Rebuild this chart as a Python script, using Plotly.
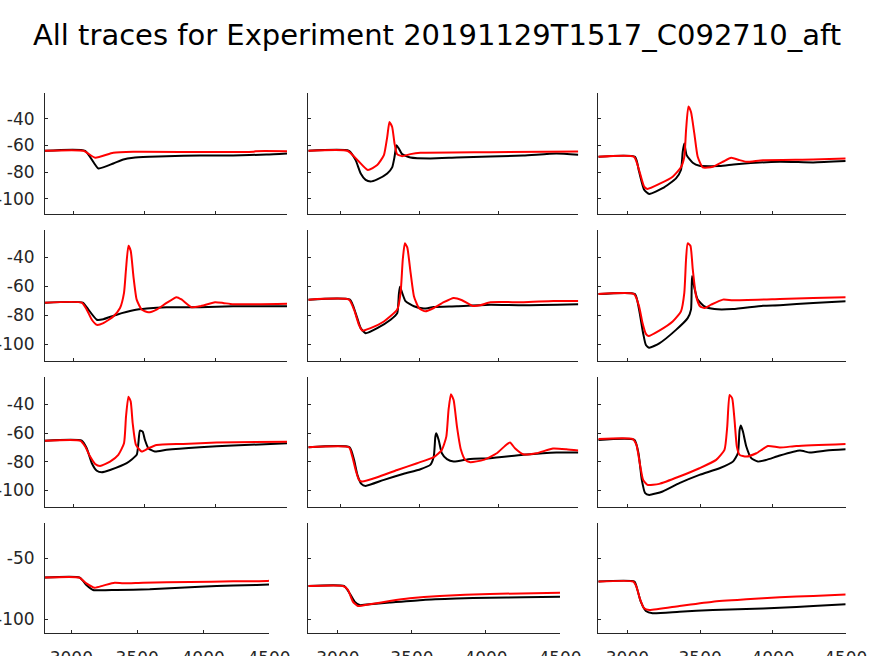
import plotly.graph_objects as go

TITLE = "All traces for Experiment 20191129T1517_C092710_aft"

X_TICKS = [3000, 3500, 4000, 4500]
X_TICKTEXT = ["3000", "3500", "4000", "4500"]
Y_TICKS_TOP = [-100, -80, -60, -40]
Y_TICKTEXT_TOP = ["-100", "-80", "-60", "-40"]
Y_TICKS_BOTTOM = [-100, -50]
Y_TICKTEXT_BOTTOM = ["-100", "-50"]

# ---- row 1 ----
T11_BLK = [2800, 3082, 3175, 3280, 3350, 3420, 3537, 3654, 3888, 4121, 4355, 4500]
V11_BLK = [-64, -64, -77.2, -73.5, -70.5, -69.2, -68.5, -68, -67.5, -67.5, -66.8, -66]
T11_RED = [2800, 3070, 3152, 3280, 3420, 4262, 4280, 4500]
V11_RED = [-64, -64, -69.2, -65.5, -64.8, -64.8, -64.3, -64.3]

T12_BLK = [2800, 3056, 3098, 3130, 3161, 3192, 3234, 3297, 3328, 3343, 3355, 3370, 3391, 3443, 3568, 3735, 4153, 4362, 4500]
V12_BLK = [-64, -64, -71, -81, -85.8, -87, -85.4, -81, -76.4, -68.5, -59.8, -62.3, -66.5, -69, -69.7, -69, -67.5, -66, -67]
T12_RED = [2800, 3046, 3110, 3175, 3234, 3276, 3297, 3311, 3328, 3343, 3359, 3391, 3443, 3506, 3944, 4500]
V12_RED = [-64, -64, -71, -78.4, -74.7, -67.3, -53.6, -42.5, -46.2, -58.6, -66.5, -68, -66.5, -65.5, -65, -64.5]

T13_BLK = [2800, 3052, 3080, 3115, 3150, 3242, 3334, 3368, 3380, 3391, 3407, 3449, 3495, 3633, 3748, 4047, 4277, 4500]
V13_BLK = [-68.5, -68.5, -79.5, -93.1, -96.3, -92, -84.6, -78.4, -64.8, -58.6, -67.3, -73, -75.2, -75.4, -74, -72.2, -72.7, -71.7]
T13_RED = [2800, 3046, 3080, 3115, 3138, 3219, 3311, 3368, 3391, 3403, 3419, 3437, 3460, 3483, 3518, 3587, 3656, 3713, 3771, 3817, 3932, 4277, 4500]
V13_RED = [-68.5, -68.5, -78.4, -90.8, -92.5, -88.8, -83.4, -76.4, -68.5, -48.7, -30.8, -35, -51.2, -68.5, -76.4, -75.9, -72.2, -69.2, -71, -72.2, -71, -70.5, -69.7]

# ---- row 2 ----
T21_BLK = [2800, 3065, 3105, 3164, 3210, 3304, 3421, 3514, 3654, 3888, 4121, 4500]
V21_BLK = [-71.2, -71.2, -76, -83, -82.6, -79.5, -76.5, -75.3, -74.4, -74.4, -73.7, -73.7]
T21_RED = [2800, 3058, 3093, 3129, 3164, 3210, 3280, 3327, 3355, 3369, 3386, 3402, 3421, 3444, 3479, 3526, 3584, 3654, 3724, 3759, 3830, 3888, 3994, 4051, 4121, 4500]
V21_RED = [-71.2, -71.2, -76, -83, -86.5, -85.3, -80.7, -74.9, -64.4, -48.1, -31.9, -35.3, -52.8, -69.1, -76, -77.9, -76, -71.4, -67.4, -69, -74.4, -73.7, -70.9, -71.4, -72.3, -71.9]

T22_BLK = [2800, 3062, 3098, 3130, 3161, 3234, 3318, 3360, 3370, 3377, 3391, 3412, 3465, 3527, 3590, 3736, 3946, 4155, 4500]
V22_BLK = [-69.1, -69.1, -78.4, -88.8, -92.3, -88.8, -83, -78.4, -65.6, -60.2, -64.4, -70.2, -73.7, -75.3, -74.2, -73.7, -72.6, -73, -72.3]
T22_RED = [2800, 3056, 3088, 3119, 3140, 3192, 3276, 3360, 3381, 3395, 3408, 3423, 3444, 3465, 3496, 3538, 3590, 3653, 3715, 3768, 3831, 3883, 3946, 4155, 4343, 4500]
V22_RED = [-69.1, -69.1, -76, -86.5, -90.5, -88.8, -84.2, -76, -64.4, -41.2, -30.2, -33, -50.5, -66.7, -74.9, -77.2, -74.9, -70.9, -67.9, -69.5, -73.3, -73, -70.9, -70.9, -70, -70]

T23_BLK = [2800, 3052, 3080, 3108, 3127, 3150, 3219, 3334, 3414, 3437, 3444, 3460, 3483, 3529, 3598, 3725, 3932, 4047, 4277, 4500]
V23_BLK = [-65.3, -65.3, -76, -92.3, -100.5, -102.3, -99.3, -90, -81.9, -76, -52.8, -60.9, -69.1, -73.7, -75.6, -75.6, -73.3, -73, -71.4, -70.2]
T23_RED = [2800, 3046, 3080, 3104, 3127, 3145, 3219, 3311, 3368, 3391, 3403, 3414, 3433, 3449, 3472, 3499, 3529, 3575, 3656, 3725, 4047, 4277, 4500]
V23_RED = [-65.3, -65.3, -73.7, -85.3, -92.8, -94.2, -90.5, -84.2, -77.2, -64.4, -41.2, -30.2, -31.9, -48.1, -66.7, -73.7, -74.9, -72.6, -69.1, -69.5, -68.6, -67.9, -67.4]

# ---- row 3 ----
T31_BLK = [2800, 3058, 3093, 3129, 3164, 3199, 3257, 3374, 3444, 3456, 3467, 3486, 3502, 3526, 3572, 3654, 3888, 4121, 4500]
V31_BLK = [-65.3, -65.3, -70.6, -81, -86.3, -87.3, -85.7, -81, -75.2, -67.1, -58.3, -59, -64.8, -70.6, -72.9, -71.7, -69.9, -68.7, -67.1]
T31_RED = [2800, 3047, 3082, 3117, 3152, 3187, 3257, 3315, 3355, 3369, 3386, 3402, 3416, 3439, 3479, 3526, 3584, 3771, 4005, 4500]
V31_RED = [-65.3, -65.3, -69.4, -76.4, -81.5, -82.9, -79.9, -75.2, -67.1, -48.6, -34.7, -38.1, -53.2, -68.3, -72.9, -70.6, -68.3, -67.6, -66.6, -66]

T32_BLK = [2800, 3060, 3088, 3109, 3134, 3161, 3276, 3401, 3506, 3568, 3590, 3600, 3606, 3621, 3641, 3673, 3715, 3820, 3945, 4153, 4362, 4500]
V32_BLK = [-69.9, -69.9, -78.7, -89.1, -95.4, -96.8, -92.6, -88.4, -85.2, -82.2, -76.4, -62.5, -60.2, -64.8, -74.1, -78.2, -79.9, -78, -77.5, -75.2, -73.6, -73.6]
T32_RED = [2800, 3056, 3077, 3098, 3119, 3140, 3234, 3360, 3485, 3590, 3641, 3669, 3683, 3698, 3715, 3736, 3761, 3788, 3820, 3903, 3987, 4038, 4070, 4101, 4153, 4237, 4341, 4425, 4500]
V32_RED = [-69.9, -69.9, -76.4, -85.7, -92.6, -93.8, -90.8, -85.7, -81, -76.8, -71.7, -62.5, -43.9, -33, -37, -55.5, -71.7, -78.7, -80.3, -78.7, -74.1, -69, -66.6, -70.6, -74.8, -74.1, -70.8, -71.3, -72.2]

T33_BLK = [2800, 3048, 3076, 3099, 3122, 3150, 3242, 3357, 3495, 3633, 3725, 3759, 3771, 3780, 3794, 3817, 3851, 3897, 3955, 4047, 4185, 4254, 4369, 4500]
V33_BLK = [-64.8, -64.8, -74.1, -92.6, -101.9, -103.1, -100.7, -94.9, -89.1, -84.5, -79.9, -74.1, -57.8, -54.8, -59, -69.4, -77.5, -79.9, -78.7, -75.7, -72.2, -73.6, -72.2, -71.3]
T33_RED = [2800, 3035, 3062, 3085, 3108, 3138, 3219, 3357, 3495, 3610, 3667, 3686, 3702, 3720, 3736, 3752, 3771, 3817, 3886, 3966, 4047, 4162, 4500]
V33_RED = [-64.1, -64.1, -68.3, -81, -92.6, -96.1, -95.4, -90.3, -84.5, -78.7, -71.7, -55.5, -33.5, -35.8, -50.9, -69.4, -75.2, -76.4, -74.1, -69, -70.1, -69, -67.6]

# ---- row 4 ----
T41_BLK = [2800, 3064, 3114, 3165, 3342, 3595, 3824, 3976, 4229, 4407, 4500]
V41_BLK = [-65.9, -65.9, -72, -76.1, -76.1, -75.5, -74.2, -73.4, -72.5, -72, -71.7]
T41_RED = [2800, 3058, 3114, 3177, 3241, 3329, 3393, 3545, 3900, 4229, 4483, 4500]
V41_RED = [-65.9, -65.9, -70.6, -74.2, -72.5, -70.1, -70.6, -70.1, -69.5, -69, -68.7, -68.4]

T42_BLK = [2800, 3041, 3079, 3113, 3147, 3237, 3350, 3575, 3800, 4026, 4252, 4500]
V42_BLK = [-72.8, -72.8, -78.8, -85.7, -88.5, -87.6, -86.5, -84.3, -83.2, -82.4, -82.1, -81.6]
T42_RED = [2800, 3034, 3068, 3101, 3135, 3214, 3350, 3485, 3688, 4026, 4500]
V42_RED = [-72.8, -72.8, -76.1, -85.7, -89.3, -87.9, -85.2, -83, -81, -79.4, -78.3]

T43_BLK = [2800, 3048, 3069, 3092, 3127, 3173, 3357, 3587, 3817, 4047, 4277, 4500]
V43_BLK = [-69.2, -69.2, -76.1, -85.7, -93.4, -95.3, -94, -92.6, -91.8, -90.7, -89.3, -87.9]
T43_RED = [2800, 3041, 3062, 3085, 3115, 3150, 3357, 3587, 3817, 4047, 4277, 4500]
V43_RED = [-69.2, -69.2, -73.4, -83, -91.2, -92.6, -89.3, -85.7, -83.8, -82.1, -81, -79.9]

PANELS = [
    [(T11_BLK, V11_BLK, T11_RED, V11_RED), (T12_BLK, V12_BLK, T12_RED, V12_RED), (T13_BLK, V13_BLK, T13_RED, V13_RED)],
    [(T21_BLK, V21_BLK, T21_RED, V21_RED), (T22_BLK, V22_BLK, T22_RED, V22_RED), (T23_BLK, V23_BLK, T23_RED, V23_RED)],
    [(T31_BLK, V31_BLK, T31_RED, V31_RED), (T32_BLK, V32_BLK, T32_RED, V32_RED), (T33_BLK, V33_BLK, T33_RED, V33_RED)],
    [(T41_BLK, V41_BLK, T41_RED, V41_RED), (T42_BLK, V42_BLK, T42_RED, V42_RED), (T43_BLK, V43_BLK, T43_RED, V43_RED)],
]

W, H = 874, 656
# pixel boxes of each panel (left, right) per row/col, (top, bottom) per row
X_BOX = [
    [(45, 287), (308.3, 578.3), (598.3, 845.7)],
    [(45, 287), (308.3, 578.3), (598.3, 845.7)],
    [(45, 287), (308.3, 578.3), (598.3, 845.7)],
    [(45, 269), (308.3, 560), (598.3, 845.7)],
]
Y_BOX = [(93.3, 214.3), (230, 361), (377, 507), (523, 633)]

X_RANGE = [2800, 4500]
Y_RANGE = [-111.5, -21]

AX_COLOR = "#262626"
FONT = "DejaVu Sans"

fig = go.Figure()
layout = {}
n = 0
for r in range(4):
    for c in range(3):
        n += 1
        sfx = "" if n == 1 else str(n)
        tb, vb, tr, vr = PANELS[r][c]
        fig.add_trace(go.Scatter(x=tb, y=vb, mode="lines",
                                 line=dict(color="#000000", width=2, shape="spline", smoothing=0.5),
                                 xaxis="x" + sfx, yaxis="y" + sfx, showlegend=False, hoverinfo="skip"))
        fig.add_trace(go.Scatter(x=tr, y=vr, mode="lines",
                                 line=dict(color="#ff0000", width=2, shape="spline", smoothing=0.5),
                                 xaxis="x" + sfx, yaxis="y" + sfx, showlegend=False, hoverinfo="skip"))
        x0, x1 = X_BOX[r][c]
        y0, y1 = Y_BOX[r]
        yt = Y_TICKS_BOTTOM if r == 3 else Y_TICKS_TOP
        ytt = Y_TICKTEXT_BOTTOM if r == 3 else Y_TICKTEXT_TOP
        layout["xaxis" + sfx] = dict(
            domain=[x0 / W, x1 / W], range=X_RANGE, anchor="y" + sfx,
            showline=True, linecolor=AX_COLOR, linewidth=1, mirror=False,
            showgrid=False, zeroline=False, automargin=False,
            ticks="inside", ticklen=3, tickcolor=AX_COLOR, tickwidth=1,
            tickvals=X_TICKS, ticktext=X_TICKTEXT,
            showticklabels=(r == 3),
            tickfont=dict(family=FONT, size=17, color=AX_COLOR),
            ticklabelstandoff=10,
        )
        layout["yaxis" + sfx] = dict(
            domain=[1 - y1 / H, 1 - y0 / H], range=Y_RANGE, anchor="x" + sfx,
            showline=True, linecolor=AX_COLOR, linewidth=1, mirror=False,
            showgrid=False, zeroline=False, automargin=False,
            ticks="inside", ticklen=3, tickcolor=AX_COLOR, tickwidth=1,
            tickvals=yt, ticktext=ytt,
            showticklabels=(c == 0),
            tickfont=dict(family=FONT, size=17, color=AX_COLOR),
            ticklabelstandoff=6,
        )

fig.update_layout(
    **layout,
    width=W, height=H,
    margin=dict(l=0, r=0, t=0, b=0, autoexpand=False),
    paper_bgcolor="white", plot_bgcolor="white",
    title=dict(text=TITLE, x=0.5, xanchor="center", y=1 - 35 / H, yanchor="middle",
               font=dict(family=FONT, size=29, color="#000000")),
)

fig.write_html("out.html",
               config={"displayModeBar": False},
               post_script="document.body.style.margin='0px';document.body.style.overflow='hidden';")
